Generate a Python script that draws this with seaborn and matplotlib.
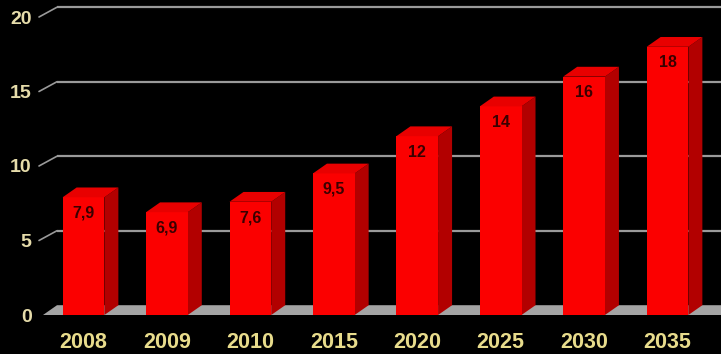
import matplotlib
matplotlib.use("Agg")
import matplotlib.pyplot as plt
from matplotlib.patches import Polygon
import seaborn as sns
import pandas as pd

# Values per year
years = ["2008", "2009", "2010", "2015", "2020", "2025", "2030", "2035"]
values = [7.9, 6.9, 7.6, 9.5, 12, 14, 16, 18]
value_labels = ["7,9", "6,9", "7,6", "9,5", "12", "14", "16", "18"]
y_ticks = [0, 5, 10, 15, 20]

sns.set_theme(style="dark")
plt.rcParams["font.family"] = ["Liberation Sans", "DejaVu Sans"]

W, H, DPI = 721, 354, 100
fig = plt.figure(figsize=(W / DPI, H / DPI), dpi=DPI, facecolor="black")

# axes placed in pixel terms: left edge 40px, floor front edge at 315px from top
left_px, bottom_px = 40, H - 315
ax = fig.add_axes([left_px / W, bottom_px / H, (W - left_px) / W, 315 / H])
ax.set_facecolor("black")

px_per_unit_y = 14.9
px_per_cat = 83.43
x0_center_px = 83.5
xlim = ((left_px - x0_center_px) / px_per_cat, (W - x0_center_px) / px_per_cat)
ylim = (0, 315 / px_per_unit_y)

# depth offset of the pseudo-3D look, in data units
dx = 14 / px_per_cat
dy = 9.8 / px_per_unit_y

df = pd.DataFrame({"year": years, "value": values})
sns.barplot(data=df, x="year", y="value", color="#fb0000", width=0.5,
            saturation=1, ax=ax, zorder=4, linewidth=0)

ax.set_xlim(*xlim)
ax.set_ylim(*ylim)

# back-wall gridlines with slanted connectors to the tick labels
grid_color = "#9a9a9a"
start_x = (57 - x0_center_px) / px_per_cat
conn_x = (39 - x0_center_px) / px_per_cat
for t in y_ticks[1:]:
    ax.plot([start_x, xlim[1] + 1], [t + dy, t + dy], color=grid_color,
            lw=1.6, zorder=1, solid_capstyle="butt")
    ax.plot([conn_x, start_x], [t, t + dy], color=grid_color, lw=1.2,
            zorder=1, clip_on=False)

# gray floor
floor_left = (43 - x0_center_px) / px_per_cat
floor = Polygon([(floor_left, 0), (xlim[1] + 1, 0), (xlim[1] + 1 + dx, dy),
                 (floor_left + dx, dy)], closed=True, facecolor="#a4a4a4",
                edgecolor="none", zorder=2)
ax.add_patch(floor)

# side and top faces built from the drawn bars
for bar, lab in zip(ax.patches[:len(values)], value_labels):
    bx0 = bar.get_x()
    bx1 = bx0 + bar.get_width()
    h = bar.get_height()
    side = Polygon([(bx1, 0), (bx1 + dx, dy), (bx1 + dx, h + dy), (bx1, h)],
                   closed=True, facecolor="#b20000", edgecolor="none", zorder=3)
    top = Polygon([(bx0, h), (bx0 + dx, h + dy), (bx1 + dx, h + dy), (bx1, h)],
                  closed=True, facecolor="#e80000", edgecolor="none", zorder=5)
    ax.add_patch(side)
    ax.add_patch(top)
    ax.text(bx0 + bar.get_width() / 2, h - 16 / px_per_unit_y, lab,
            ha="center", va="center", fontsize=11.5, fontweight="bold",
            color="#3a0000", zorder=6)

ax.set_xlabel("")
ax.set_ylabel("")
ax.set_yticks(y_ticks)
ax.set_yticklabels([str(t) for t in y_ticks])
ax.tick_params(axis="y", length=0, pad=6, labelsize=14, labelcolor="#e6dcaa")
ax.tick_params(axis="x", length=0, pad=12, labelsize=15.5, labelcolor="#e8dc8c")
for lbl in ax.get_xticklabels() + ax.get_yticklabels():
    lbl.set_fontweight("bold")
ax.grid(False)
for s in ax.spines.values():
    s.set_visible(False)

fig.savefig("out.png", dpi=DPI, facecolor="black")
